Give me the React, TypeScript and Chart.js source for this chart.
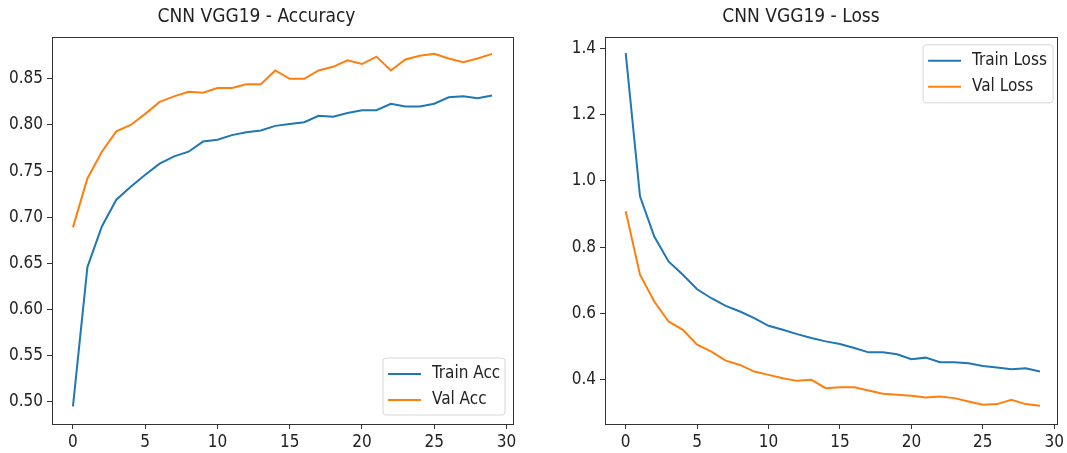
import React, { useEffect, useRef } from 'react';
import { Chart, registerables } from 'chart.js';

Chart.register(...registerables);

const epochs = [0, 1, 2, 3, 4, 5, 6, 7, 8, 9, 10, 11, 12, 13, 14, 15, 16, 17, 18, 19, 20, 21, 22, 23, 24, 25, 26, 27, 28, 29];

const trainAcc = [0.495, 0.646, 0.690, 0.719, 0.733, 0.746, 0.758, 0.766, 0.771, 0.782, 0.784, 0.789, 0.792, 0.794, 0.799, 0.801, 0.803, 0.810, 0.809, 0.813, 0.816, 0.816, 0.823, 0.820, 0.820, 0.823, 0.830, 0.831, 0.829, 0.832];
const valAcc = [0.689, 0.742, 0.771, 0.793, 0.800, 0.812, 0.825, 0.831, 0.836, 0.835, 0.840, 0.840, 0.844, 0.844, 0.859, 0.850, 0.850, 0.859, 0.863, 0.870, 0.866, 0.874, 0.859, 0.871, 0.875, 0.877, 0.872, 0.868, 0.872, 0.877];

const trainLoss = [1.385, 0.953, 0.832, 0.757, 0.717, 0.673, 0.646, 0.623, 0.606, 0.586, 0.563, 0.551, 0.538, 0.526, 0.516, 0.508, 0.496, 0.483, 0.483, 0.477, 0.462, 0.467, 0.453, 0.453, 0.450, 0.442, 0.437, 0.432, 0.435, 0.425];
const valLoss = [0.908, 0.717, 0.636, 0.576, 0.551, 0.506, 0.485, 0.458, 0.445, 0.425, 0.415, 0.405, 0.397, 0.400, 0.375, 0.378, 0.378, 0.368, 0.358, 0.355, 0.352, 0.347, 0.350, 0.345, 0.335, 0.325, 0.327, 0.340, 0.327, 0.322];

const accLabels = ['Train Acc', 'Val Acc'];
const lossLabels = ['Train Loss', 'Val Loss'];
const titles = ['CNN VGG19 - Accuracy', 'CNN VGG19 - Loss'];

const BLUE = '#1f77b4';
const ORANGE = '#ff7f0e';
const FONT = "'DejaVu Sans Condensed', 'DejaVu Sans', sans-serif";
const TEXT = '#222222';

type LegendSpec = {
  items: { label: string; color: string }[];
  corner: 'top' | 'bottom';
  width: number;
  height: number;
  offX: number;
  offY: number;
};

function framePlugin() {
  return {
    id: 'frameBox',
    afterDatasetsDraw(chart: any) {
      const { ctx, chartArea: a } = chart;
      ctx.save();
      ctx.strokeStyle = '#333333';
      ctx.lineWidth = 1;
      ctx.strokeRect(Math.round(a.left) + 0.5, Math.round(a.top) + 0.5, Math.round(a.right - a.left), Math.round(a.bottom - a.top));
      ctx.restore();
    },
  };
}

function legendPlugin(spec: LegendSpec) {
  return {
    id: 'boxLegend',
    afterDraw(chart: any) {
      const { ctx, chartArea: a } = chart;
      const x = a.right - spec.offX - spec.width;
      const y = spec.corner === 'top' ? a.top + spec.offY : a.bottom - spec.offY - spec.height;
      ctx.save();
      ctx.beginPath();
      const r = 3;
      ctx.moveTo(x + r, y);
      ctx.lineTo(x + spec.width - r, y);
      ctx.quadraticCurveTo(x + spec.width, y, x + spec.width, y + r);
      ctx.lineTo(x + spec.width, y + spec.height - r);
      ctx.quadraticCurveTo(x + spec.width, y + spec.height, x + spec.width - r, y + spec.height);
      ctx.lineTo(x + r, y + spec.height);
      ctx.quadraticCurveTo(x, y + spec.height, x, y + spec.height - r);
      ctx.lineTo(x, y + r);
      ctx.quadraticCurveTo(x, y, x + r, y);
      ctx.closePath();
      ctx.fillStyle = 'rgba(255,255,255,0.85)';
      ctx.fill();
      ctx.strokeStyle = '#d6d6d6';
      ctx.lineWidth = 1;
      ctx.stroke();
      spec.items.forEach((it, i) => {
        const ly = y + 16 + i * 26;
        ctx.beginPath();
        ctx.strokeStyle = it.color;
        ctx.lineWidth = 2;
        ctx.moveTo(x + 5, ly);
        ctx.lineTo(x + 38, ly);
        ctx.stroke();
        ctx.fillStyle = TEXT;
        ctx.font = `17px ${FONT}`;
        ctx.textBaseline = 'middle';
        ctx.textAlign = 'left';
        ctx.fillText(it.label, x + 49, ly);
      });
      ctx.restore();
    },
  };
}

function makeConfig(opts: {
  title: string;
  labels: string[];
  series: number[][];
  yMin: number;
  yMax: number;
  yStep: number;
  yDec: number;
  xMax: number;
  yAxisWidth: number;
  padRight: number;
  legend: LegendSpec;
}) {
  const colors = [BLUE, ORANGE];
  return {
    type: 'line' as const,
    data: {
      datasets: opts.series.map((s, i) => ({
        label: opts.labels[i],
        data: epochs.map((e, j) => ({ x: e, y: s[j] })),
        borderColor: colors[i],
        backgroundColor: colors[i],
        borderWidth: 2,
        pointRadius: 0,
        tension: 0,
        fill: false,
      })),
    },
    options: {
      responsive: false,
      animation: false,
      layout: { padding: { left: 0, right: opts.padRight, top: 0, bottom: 0 } },
      plugins: {
        legend: { display: false },
        tooltip: { enabled: false },
        title: {
          display: true,
          text: opts.title,
          color: TEXT,
          font: { family: FONT, size: 19, weight: 'normal', lineHeight: 1.2 },
          padding: { top: 6, bottom: 8 },
        },
      },
      scales: {
        x: {
          type: 'linear',
          min: -1.45,
          max: opts.xMax,
          border: { display: false },
          grid: { display: true, drawOnChartArea: false, drawTicks: true, tickLength: 5, color: '#333333' },
          ticks: {
            stepSize: 5,
            includeBounds: false,
            color: TEXT,
            padding: 3,
            maxRotation: 0,
            font: { family: FONT, size: 17 },
            callback: (v: number) => String(Math.round(v)),
          },
          afterFit: (scale: any) => {
            scale.height = 29;
          },
        },
        y: {
          type: 'linear',
          min: opts.yMin,
          max: opts.yMax,
          border: { display: false },
          grid: { display: true, drawOnChartArea: false, drawTicks: true, tickLength: 5, color: '#333333' },
          ticks: {
            stepSize: opts.yStep,
            includeBounds: false,
            color: TEXT,
            padding: 4,
            font: { family: FONT, size: 17 },
            callback: (v: number) => Number(v).toFixed(opts.yDec),
          },
          afterFit: (scale: any) => {
            scale.width = opts.yAxisWidth;
          },
        },
      },
    },
    plugins: [framePlugin(), legendPlugin(opts.legend)],
  };
}

function ChartCanvas({ config, width, height }: { config: any; width: number; height: number }) {
  const ref = useRef<HTMLCanvasElement | null>(null);
  useEffect(() => {
    if (!ref.current) return;
    const chart = new Chart(ref.current, config);
    return () => chart.destroy();
  }, [config]);
  return <canvas ref={ref} width={width} height={height} style={{ width, height, display: 'block' }} />;
}

const accConfig = makeConfig({
  title: titles[0],
  labels: accLabels,
  series: [trainAcc, valAcc],
  yMin: 0.476,
  yMax: 0.8955,
  yStep: 0.05,
  yDec: 2,
  xMax: 30.45,
  yAxisWidth: 52,
  padRight: 27,
  legend: {
    items: [
      { label: accLabels[0], color: BLUE },
      { label: accLabels[1], color: ORANGE },
    ],
    corner: 'bottom',
    width: 122,
    height: 57,
    offX: 8,
    offY: 9,
  },
});

const lossConfig = makeConfig({
  title: titles[1],
  labels: lossLabels,
  series: [trainLoss, valLoss],
  yMin: 0.267,
  yMax: 1.434,
  yStep: 0.2,
  yDec: 1,
  xMax: 30.2,
  yAxisWidth: 65,
  padRight: 5,
  legend: {
    items: [
      { label: lossLabels[0], color: BLUE },
      { label: lossLabels[1], color: ORANGE },
    ],
    corner: 'top',
    width: 130,
    height: 58,
    offX: 4,
    offY: 8,
  },
});

export default function App() {
  return (
    <div style={{ position: 'fixed', left: 0, top: 0, width: 1067, height: 453, background: '#ffffff' }}>
      <div style={{ position: 'absolute', left: 0, top: 0 }}>
        <ChartCanvas config={accConfig} width={540} height={453} />
      </div>
      <div style={{ position: 'absolute', left: 540, top: 0 }}>
        <ChartCanvas config={lossConfig} width={527} height={453} />
      </div>
    </div>
  );
}
